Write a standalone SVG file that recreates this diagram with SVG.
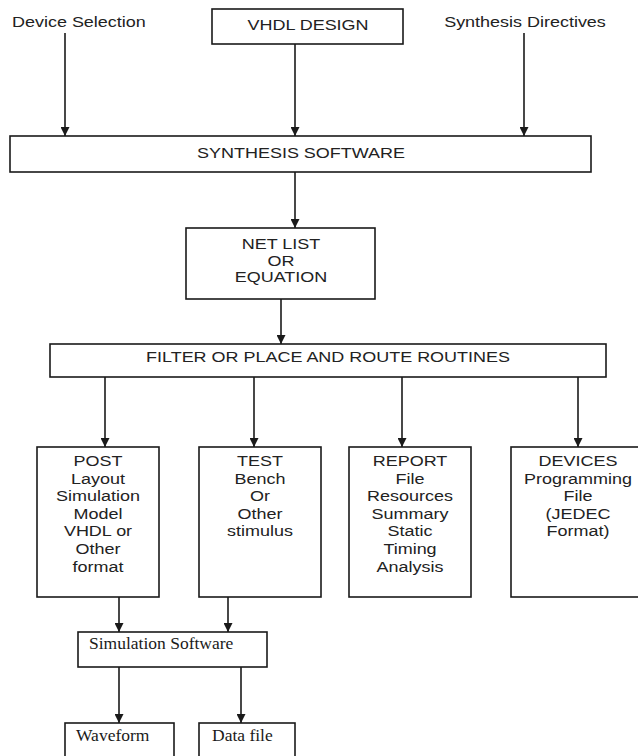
<svg xmlns="http://www.w3.org/2000/svg" width="638" height="756" viewBox="0 0 638 756">
  <style>
    .box { fill: #ffffff; stroke: #1a1a1a; stroke-width: 1.6; }
    .wire { fill: none; stroke: #1a1a1a; stroke-width: 1.6; marker-end: url(#head); }
    .sans { font-family: "Liberation Sans", Arial, sans-serif; font-size: 15.5px; fill: #222222; }
    .serif { font-family: "Liberation Serif", "Times New Roman", serif; font-size: 17.5px; fill: #1a1a1a; }
    .mid { text-anchor: middle; }
  </style>
  <defs>
    <marker id="head" viewBox="0 0 10 10" refX="10" refY="5" markerUnits="userSpaceOnUse" markerWidth="9" markerHeight="9" orient="auto">
      <path d="M0,0 L10,5 L0,10 Z" fill="#1a1a1a"/>
    </marker>
  </defs>
  <rect width="638" height="756" fill="#ffffff"/>

  <!-- inputs -->
  <g id="device-selection">
    <text class="sans" transform="translate(12,27) scale(1.16,1)">Device Selection</text>
  </g>
  <g id="vhdl-design">
    <rect class="box" x="212" y="9" width="191" height="35"/>
    <text class="sans mid" transform="translate(308,30) scale(1.16,1)">VHDL DESIGN</text>
  </g>
  <g id="synthesis-directives">
    <text class="sans mid" transform="translate(525,27) scale(1.16,1)">Synthesis Directives</text>
  </g>

  <g id="synthesis-software">
    <rect class="box" x="10" y="136" width="581" height="36"/>
    <text class="sans mid" transform="translate(301,157.5) scale(1.16,1)">SYNTHESIS SOFTWARE</text>
  </g>

  <g id="net-list">
    <rect class="box" x="186" y="228" width="189" height="71"/>
    <text class="sans mid" transform="translate(281,249) scale(1.16,1)">NET LIST</text>
    <text class="sans mid" transform="translate(281,265.7) scale(1.16,1)">OR</text>
    <text class="sans mid" transform="translate(281,282.4) scale(1.16,1)">EQUATION</text>
  </g>

  <g id="filter-place-route">
    <rect class="box" x="50" y="344" width="556" height="33"/>
    <text class="sans mid" transform="translate(328,361.5) scale(1.16,1)">FILTER OR PLACE AND ROUTE ROUTINES</text>
  </g>

  <!-- outputs of place and route -->
  <g id="post-layout">
    <rect class="box" x="37" y="447" width="122" height="150"/>
    <text class="sans mid" transform="translate(98,466) scale(1.16,1)">POST</text>
    <text class="sans mid" transform="translate(98,483.6) scale(1.16,1)">Layout</text>
    <text class="sans mid" transform="translate(98,501.2) scale(1.16,1)">Simulation</text>
    <text class="sans mid" transform="translate(98,518.8) scale(1.16,1)">Model</text>
    <text class="sans mid" transform="translate(98,536.4) scale(1.16,1)">VHDL or</text>
    <text class="sans mid" transform="translate(98,554) scale(1.16,1)">Other</text>
    <text class="sans mid" transform="translate(98,571.6) scale(1.16,1)">format</text>
  </g>
  <g id="test-bench">
    <rect class="box" x="199" y="447" width="122" height="150"/>
    <text class="sans mid" transform="translate(260,466) scale(1.16,1)">TEST</text>
    <text class="sans mid" transform="translate(260,483.6) scale(1.16,1)">Bench</text>
    <text class="sans mid" transform="translate(260,501.2) scale(1.16,1)">Or</text>
    <text class="sans mid" transform="translate(260,518.8) scale(1.16,1)">Other</text>
    <text class="sans mid" transform="translate(260,536.4) scale(1.16,1)">stimulus</text>
  </g>
  <g id="report-file">
    <rect class="box" x="349" y="447" width="122" height="150"/>
    <text class="sans mid" transform="translate(410,466) scale(1.16,1)">REPORT</text>
    <text class="sans mid" transform="translate(410,483.6) scale(1.16,1)">File</text>
    <text class="sans mid" transform="translate(410,501.2) scale(1.16,1)">Resources</text>
    <text class="sans mid" transform="translate(410,518.8) scale(1.16,1)">Summary</text>
    <text class="sans mid" transform="translate(410,536.4) scale(1.16,1)">Static</text>
    <text class="sans mid" transform="translate(410,554) scale(1.16,1)">Timing</text>
    <text class="sans mid" transform="translate(410,571.6) scale(1.16,1)">Analysis</text>
  </g>
  <g id="devices">
    <rect class="box" x="511" y="447" width="140" height="150"/>
    <text class="sans mid" transform="translate(578,466) scale(1.16,1)">DEVICES</text>
    <text class="sans mid" transform="translate(578,483.6) scale(1.16,1)">Programming</text>
    <text class="sans mid" transform="translate(578,501.2) scale(1.16,1)">File</text>
    <text class="sans mid" transform="translate(578,518.8) scale(1.16,1)">(JEDEC</text>
    <text class="sans mid" transform="translate(578,536.4) scale(1.16,1)">Format)</text>
  </g>

  <!-- simulation stage -->
  <g id="simulation-software">
    <rect class="box" x="78" y="632" width="189" height="35"/>
    <text class="serif" x="89" y="649">Simulation Software</text>
  </g>
  <g id="waveform">
    <rect class="box" x="65" y="723" width="109" height="40"/>
    <text class="serif" x="76" y="741">Waveform</text>
  </g>
  <g id="data-file">
    <rect class="box" x="199" y="723" width="96" height="40"/>
    <text class="serif" x="212" y="741">Data file</text>
  </g>

  <g id="connectors">
    <line class="wire" x1="65" y1="33" x2="65" y2="136"/>
    <line class="wire" x1="295" y1="44" x2="295" y2="136"/>
    <line class="wire" x1="524" y1="33" x2="524" y2="136"/>
    <line class="wire" x1="295" y1="172" x2="295" y2="228"/>
    <line class="wire" x1="281" y1="299" x2="281" y2="344"/>
    <line class="wire" x1="105" y1="377" x2="105" y2="447"/>
    <line class="wire" x1="254" y1="377" x2="254" y2="447"/>
    <line class="wire" x1="402" y1="377" x2="402" y2="447"/>
    <line class="wire" x1="578" y1="377" x2="578" y2="447"/>
    <line class="wire" x1="119" y1="597" x2="119" y2="632"/>
    <line class="wire" x1="228" y1="597" x2="228" y2="632"/>
    <line class="wire" x1="119" y1="667" x2="119" y2="723"/>
    <line class="wire" x1="241" y1="667" x2="241" y2="723"/>
  </g>
</svg>
